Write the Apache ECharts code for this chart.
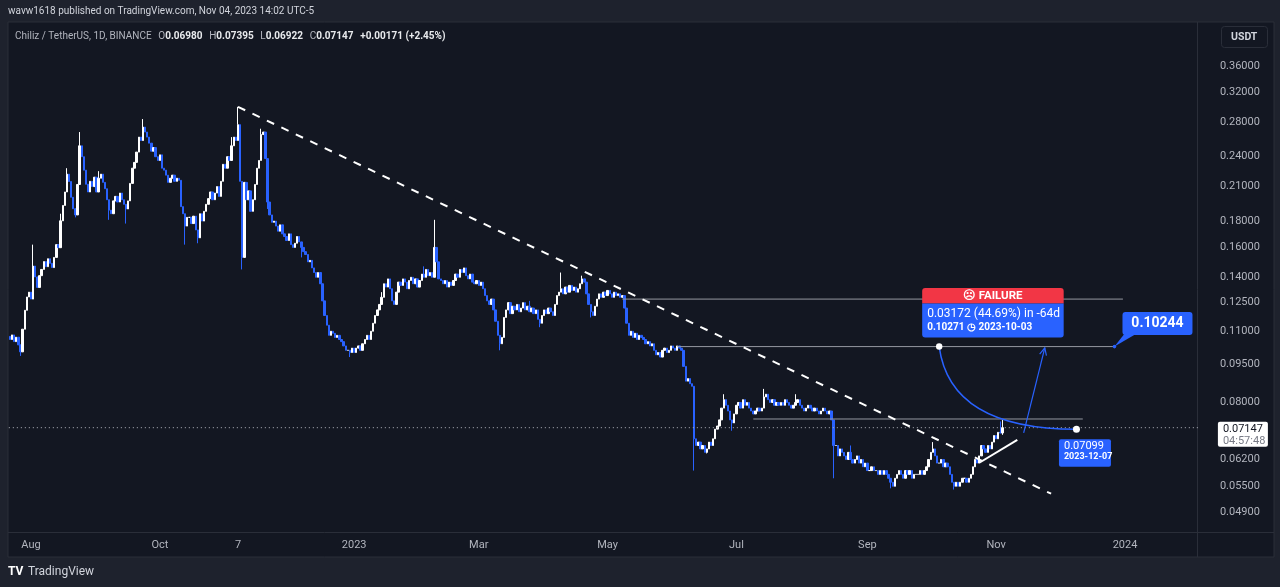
<!DOCTYPE html>
<html><head><meta charset="utf-8">
<script src="https://cdn.jsdelivr.net/npm/echarts@6.0.0/dist/echarts.min.js"></script>
<style>html,body{margin:0;padding:0;background:#1e222d;}#c{width:1280px;height:587px;}</style>
</head><body><div id="c"></div>
<script>
// ---------- DATA ----------
const startDate = [2022, 6, 22];      // first daily candle: 2022-07-22
const totalSlots = 563;               // days shown on the time axis (incl. future space)
const firstOpen = 0.1075;
const closes = [
0.1060,0.1082,0.1050,0.1071,0.1035, 0.1003,0.1110,0.1208,0.1282,0.1310,
0.1270,0.1472,0.1402,0.1338,0.1410, 0.1450,0.1502,0.1468,0.1521,0.1490,
0.1462,0.1530,0.1620,0.1598,0.1802, 0.1930,0.2050,0.2220,0.2148,0.2002,
0.1902,0.1850,0.2120,0.2520,0.2400, 0.2260,0.2122,0.2050,0.2150,0.2100,
0.2190,0.2050,0.2180,0.2220,0.2140, 0.2080,0.1980,0.1890,0.1860,0.1970,
0.2010,0.1960,0.2040,0.1980,0.1940, 0.1900,0.1970,0.2130,0.2280,0.2340,
0.2450,0.2620,0.2580,0.2740,0.2680, 0.2620,0.2550,0.2460,0.2500,0.2400,
0.2360,0.2420,0.2280,0.2260,0.2210, 0.2140,0.2180,0.2210,0.2150,0.2180,
0.2160,0.1920,0.1860,0.1760,0.1830, 0.1830,0.1780,0.1840,0.1730,0.1670,
0.1860,0.1800,0.1880,0.1940,0.1990, 0.2050,0.1980,0.2040,0.2100,0.2010,
0.2150,0.2320,0.2280,0.2400,0.2360, 0.2520,0.2620,0.2580,0.2770,0.2150,
0.1530,0.2140,0.1980,0.2060,0.1880, 0.1980,0.2120,0.2280,0.2360,0.2650,
0.2680,0.2380,0.1960,0.1850,0.1790, 0.1800,0.1760,0.1720,0.1770,0.1700,
0.1680,0.1650,0.1700,0.1620,0.1600, 0.1630,0.1680,0.1640,0.1600,0.1570,
0.1550,0.1500,0.1510,0.1460,0.1430, 0.1400,0.1430,0.1360,0.1260,0.1180,
0.1130,0.1080,0.1100,0.1090,0.1070, 0.1080,0.1060,0.1050,0.1030,0.1010,
0.1010,0.1000,0.1020,0.1000,0.1020, 0.1030,0.1010,0.1040,0.1060,0.1080,
0.1060,0.1100,0.1140,0.1180,0.1210, 0.1240,0.1280,0.1360,0.1340,0.1390,
0.1330,0.1260,0.1240,0.1310,0.1370, 0.1350,0.1390,0.1370,0.1330,0.1380,
0.1400,0.1360,0.1390,0.1340,0.1380, 0.1420,0.1400,0.1450,0.1410,0.1430,
0.1400,0.1600,0.1500,0.1390,0.1380, 0.1360,0.1380,0.1340,0.1370,0.1350,
0.1380,0.1420,0.1400,0.1450,0.1430, 0.1460,0.1410,0.1390,0.1420,0.1370,
0.1360,0.1380,0.1350,0.1370,0.1330, 0.1290,0.1260,0.1240,0.1270,0.1210,
0.1150,0.1080,0.1040,0.1070,0.1170, 0.1210,0.1250,0.1190,0.1230,0.1210,
0.1240,0.1200,0.1220,0.1250,0.1210, 0.1230,0.1200,0.1220,0.1190,0.1210,
0.1160,0.1140,0.1180,0.1210,0.1190, 0.1220,0.1200,0.1180,0.1240,0.1290,
0.1310,0.1330,0.1300,0.1340,0.1310, 0.1350,0.1320,0.1340,0.1310,0.1330,
0.1360,0.1390,0.1370,0.1300,0.1240, 0.1200,0.1180,0.1230,0.1270,0.1300,
0.1280,0.1310,0.1290,0.1320,0.1300, 0.1280,0.1310,0.1290,0.1300,0.1280,
0.1290,0.1220,0.1140,0.1080,0.1100, 0.1070,0.1090,0.1060,0.1080,0.1070,
0.1060,0.1040,0.1050,0.1030,0.1040, 0.1010,0.0990,0.1000,0.0980,0.1010,
0.1020,0.1000,0.1010,0.1030,0.1020, 0.1010,0.1030,0.1020,0.1010,0.0940,
0.0880,0.0890,0.0870,0.0860,0.0680, 0.0660,0.0670,0.0650,0.0660,0.0640,
0.0650,0.0670,0.0660,0.0680,0.0710, 0.0720,0.0740,0.0780,0.0810,0.0790,
0.0770,0.0740,0.0730,0.0760,0.0790, 0.0800,0.0780,0.0810,0.0790,0.0800,
0.0780,0.0770,0.0760,0.0770,0.0780, 0.0770,0.0780,0.0820,0.0830,0.0810,
0.0800,0.0810,0.0790,0.0800,0.0790, 0.0800,0.0790,0.0810,0.0800,0.0790,
0.0780,0.0790,0.0800,0.0810,0.0790, 0.0780,0.0770,0.0780,0.0790,0.0780,
0.0770,0.0780,0.0770,0.0760,0.0770, 0.0780,0.0770,0.0760,0.0770,0.0740,
0.0660,0.0660,0.0630,0.0650,0.0640, 0.0630,0.0620,0.0640,0.0620,0.0610,
0.0620,0.0630,0.0610,0.0620,0.0600, 0.0610,0.0590,0.0590,0.0600,0.0590,
0.0590,0.0580,0.0590,0.0580,0.0590, 0.0580,0.0570,0.0560,0.0550,0.0570,
0.0580,0.0590,0.0580,0.0570,0.0590, 0.0580,0.0590,0.0570,0.0580,0.0580,
0.0580,0.0590,0.0580,0.0590,0.0600, 0.0620,0.0640,0.0650,0.0630,0.0610,
0.0610,0.0620,0.0600,0.0610,0.0600, 0.0580,0.0560,0.0550,0.0560,0.0550,
0.0560,0.0570,0.0570,0.0560,0.0570, 0.0580,0.0600,0.0620,0.0610,0.0630,
0.0660,0.0650,0.0640,0.0660,0.0650, 0.0670,0.0690,0.0680,0.0700,0.06976,
0.07147
];
// notable wicks [candle index, price]
const highWicks = [[11,0.162],[24,0.186],[27,0.228],[33,0.268],[42,0.225],[63,0.284],[105,0.262],[108,0.300],
  [119,0.272],[176,0.131],[196,0.147],[201,0.181],[246,0.126],[261,0.143],[271,0.141],[338,0.083],[357,0.085],
  [372,0.083],[398,0.066],[437,0.067],[469,0.0735],[470,0.07395]];
const lowWicks = [[5,0.0985],[31,0.183],[47,0.181],[55,0.178],[83,0.162],[89,0.163],[110,0.145],[122,0.190],
  [138,0.153],[161,0.098],[232,0.101],[251,0.112],[275,0.117],[324,0.059],[330,0.0637],[342,0.0705],[390,0.057],
  [417,0.0545],[447,0.0542],[470,0.06922]];
const lastOpen = 0.06980;
const lastPrice = 0.07147;
const change = 0.00171, changePct = 2.45;
const priceTicks = [0.36,0.32,0.28,0.24,0.21,0.18,0.16,0.14,0.125,0.11,0.095,0.08,0.062,0.055,0.049];
const timeLabels = [['2022-08-01','Aug'],['2022-10-01','Oct'],['2022-11-07','7'],['2023-01-01','2023'],
  ['2023-03-01','Mar'],['2023-05-01','May'],['2023-07-01','Jul'],['2023-09-01','Sep'],['2023-11-01','Nov'],['2024-01-01','2024']];
// drawings (candle index, price)
const trendLine = [[108,0.300],[492.5,0.0532]];
const levelLines = [[290.3,527,0.1270],[316.3,523.2,0.1027],[351.8,508.1,0.0743]];
const supportLine = [[459.3,0.0611],[476.8,0.0677]];
const forecastFrom = [440.4,0.10271];
const forecastTo = [504.6,0.07099];
const arrowLine = [[480.2,0.0698],[490.4,0.1021]];
const targetPrice = 0.10244;
const targetAnchor = [523.2,0.1027];

// ---------- BUILD ----------
const FONT = 'Roboto, "Noto Sans", sans-serif';
const dates = [];
const d0 = Date.UTC(startDate[0], startDate[1], startDate[2]);
for (let i = 0; i < totalSlots; i++) dates.push(new Date(d0 + i * 864e5).toISOString().slice(0, 10));
const labelMap = Object.fromEntries(timeLabels);
const hiMap = Object.fromEntries(highWicks), loMap = Object.fromEntries(lowWicks);
const candles = closes.map((c, i) => {
  const o = i === closes.length - 1 ? lastOpen : (i ? closes[i - 1] : firstOpen);
  const hi = Math.max(o, c, hiMap[i] || 0);
  const lo = Math.min(o, c, loMap[i] || Infinity);
  return [o, c, lo, hi];
});

const chart = echarts.init(document.getElementById('c'), null, {width: 1280, height: 587});

function renderAnnotations(params, api) {
  const P = p => api.coord(p);
  const cs = params.coordSys;
  const kids = [];
  const line = (a, b, style) => ({type: 'line', shape: {x1: a[0], y1: a[1], x2: b[0], y2: b[1]}, style});
  const text = (t, x, y, fill, font, align) => ({type: 'text', style: {text: t, x, y, fill, font,
      align: align || 'left', textAlign: align || 'left', verticalAlign: 'middle', textVerticalAlign: 'middle'}});
  // horizontal levels
  levelLines.forEach(l => kids.push(line(P([l[0], l[2]]), P([l[1], l[2]]), {stroke: '#9598a1', lineWidth: 1})));
  // last price dotted line
  const ly = P([0, lastPrice])[1];
  kids.push(line([cs.x, ly], [cs.x + cs.width, ly], {stroke: '#b2b5be', lineWidth: 1, lineDash: [1, 3]}));
  // dashed down trend line
  kids.push(line(P(trendLine[0]), P(trendLine[1]), {stroke: '#ffffff', lineWidth: 2, lineDash: [8, 8]}));
  // short support line
  kids.push(line(P(supportLine[0]), P(supportLine[1]), {stroke: '#ffffff', lineWidth: 2}));
  // forecast curve
  const f0 = P(forecastFrom), f1 = P(forecastTo);
  kids.push({type: 'bezierCurve', shape: {x1: f0[0], y1: f0[1], x2: f1[0], y2: f1[1], cpx1: f0[0] + 11, cpy1: f1[1]},
    style: {stroke: '#2962ff', lineWidth: 1.5, fill: null}});
  // arrow
  const a0 = P(arrowLine[0]), a1 = P(arrowLine[1]);
  kids.push(line(a0, a1, {stroke: '#2962ff', lineWidth: 1.2}));
  const ang = Math.atan2(a1[1] - a0[1], a1[0] - a0[0]);
  kids.push({type: 'polyline', shape: {points: [
    [a1[0] - 8 * Math.cos(ang - 0.45), a1[1] - 8 * Math.sin(ang - 0.45)], a1,
    [a1[0] - 8 * Math.cos(ang + 0.45), a1[1] - 8 * Math.sin(ang + 0.45)]]},
    style: {stroke: '#2962ff', lineWidth: 1.2, fill: null}});
  // dots
  kids.push({type: 'circle', shape: {cx: f0[0], cy: f0[1], r: 3.2}, style: {fill: '#ffffff'}});
  kids.push({type: 'circle', shape: {cx: f1[0], cy: f1[1], r: 3.5}, style: {fill: '#ffffff'}});
  // FAILURE box
  kids.push({type: 'rect', shape: {x: f0[0] - 17, y: f0[1] - 58.5, width: 141.5, height: 15.5, r: [3, 3, 0, 0]}, style: {fill: '#f23645'}});
  kids.push({type: 'rect', shape: {x: f0[0] - 17, y: f0[1] - 43, width: 141.5, height: 34, r: [0, 0, 3, 3]}, style: {fill: '#2962ff'}});
  kids.push(text('\u2639 FAILURE', f0[0] + 53.5, f0[1] - 50.5, '#ffffff', 'bold 11.5px ' + FONT, 'center'));
  kids.push(text('0.03172 (44.69%) in -64d', f0[0] - 12, f0[1] - 32.5, '#ffffff', '12px ' + FONT));
  kids.push(text(forecastFrom[1].toFixed(5) + ' \u25F7 2023-10-03', f0[0] - 12, f0[1] - 19, '#ffffff', 'bold 10px ' + FONT));
  // end box
  kids.push({type: 'rect', shape: {x: f1[0] - 17.5, y: f1[1] + 10, width: 52, height: 27.5, r: 2}, style: {fill: '#2962ff'}});
  kids.push(text(forecastTo[1].toFixed(5), f1[0] - 12.5, f1[1] + 17, '#ffffff', '11px ' + FONT));
  kids.push(text('2023-12-07', f1[0] - 12.5, f1[1] + 28, '#ffffff', 'bold 9px ' + FONT));
  // target callout
  const T = P(targetAnchor);
  kids.push({type: 'polygon', shape: {points: [[T[0], T[1]], [T[0] + 11, T[1] - 14], [T[0] + 24, T[1] - 14]]}, style: {fill: '#2962ff'}});
  kids.push({type: 'circle', shape: {cx: T[0], cy: T[1], r: 1.8}, style: {fill: '#2962ff'}});
  kids.push({type: 'rect', shape: {x: T[0] + 8, y: T[1] - 34.5, width: 70, height: 23, r: 3}, style: {fill: '#2962ff'}});
  kids.push(text(targetPrice.toFixed(5), T[0] + 43, T[1] - 23, '#ffffff', 'bold 14px ' + FONT, 'center'));
  // last price label on the scale
  const ax = cs.x + cs.width;
  kids.push({type: 'rect', shape: {x: ax + 20, y: ly - 6, width: 50, height: 25, r: 2}, style: {fill: '#ffffff'}});
  kids.push(text(lastPrice.toFixed(5), ax + 25, ly + 2, '#131722', '11px ' + FONT));
  kids.push(text('04:57:48', ax + 25, ly + 13.5, '#787b86', '11px ' + FONT));
  return {type: 'group', children: kids};
}

const option = {
  animation: false,
  backgroundColor: '#1e222d',
  textStyle: {fontFamily: FONT},
  grid: {left: 8.84, right: 82.1, top: 22, bottom: 55},
  graphic: [
    {type: 'rect', z: -10, shape: {x: 8, y: 22, width: 1266, height: 535}, style: {fill: '#131722', stroke: '#2a2e39', lineWidth: 1}},
    {type: 'line', z: -5, shape: {x1: 1197.5, y1: 22, x2: 1197.5, y2: 557}, style: {stroke: '#2a2e39', lineWidth: 1}},
    {type: 'line', z: -5, shape: {x1: 8, y1: 532.5, x2: 1274, y2: 532.5}, style: {stroke: '#2a2e39', lineWidth: 1}},
    {type: 'text', left: 8, top: 6, style: {text: 'wavw1618 published on TradingView.com, Nov 04, 2023 14:02 UTC-5', fill: '#d1d4dc', font: '10px ' + FONT}},
    {type: 'text', left: 15, top: 30, style: {
      text: '{t|Chiliz / TetherUS, 1D, BINANCE}  {k|O}{v|' + lastOpen.toFixed(5) + '}  {k|H}{v|' + hiMap[470].toFixed(5) +
            '}  {k|L}{v|' + loMap[470].toFixed(5) + '}  {k|C}{v|' + lastPrice.toFixed(5) + '}  {v|+' + change.toFixed(5) + ' (+' + changePct.toFixed(2) + '%)}',
      rich: {
        t: {fill: '#b2b5be', fontSize: 10, fontFamily: FONT},
        k: {fill: '#b2b5be', fontSize: 10, fontFamily: FONT},
        v: {fill: '#e8eaed', fontSize: 10, fontFamily: FONT, fontWeight: 'bold'}
      }}},
    {type: 'rect', shape: {x: 1221.5, y: 26.5, width: 46, height: 21, r: 3}, style: {fill: '#131722', stroke: '#2a2e39', lineWidth: 1}},
    {type: 'text', left: 1231, top: 31.5, style: {text: 'USDT', fill: '#d1d4dc', font: 'bold 10.5px ' + FONT}},
    {type: 'text', left: 8, top: 566, style: {text: 'TV', fill: '#ffffff', font: 'bold 12px ' + FONT}},
    {type: 'text', left: 28, top: 566, style: {text: 'TradingView', fill: '#d1d4dc', font: '12px ' + FONT}}
  ],
  xAxis: {
    type: 'category', data: dates, boundaryGap: true,
    axisLine: {show: false}, axisTick: {show: false}, splitLine: {show: false},
    axisLabel: {interval: (i, v) => labelMap[v] !== undefined, formatter: v => labelMap[v] || '',
      color: '#b2b5be', fontSize: 11, margin: 8, fontFamily: FONT}
  },
  yAxis: {
    type: 'log', position: 'right', min: 0.04483, max: 0.4383,
    axisLine: {show: false}, axisTick: {show: false}, splitLine: {show: false},
    axisLabel: {customValues: priceTicks, formatter: v => Number(v).toFixed(5), color: '#b2b5be', fontSize: 11, margin: 22, fontFamily: FONT}
  },
  series: [
    {type: 'candlestick', data: candles, barWidth: '88%', z: 2,
      itemStyle: {color: '#ffffff', color0: '#2962ff', borderColor: '#ffffff', borderColor0: '#2962ff', borderWidth: 1}},
    {type: 'custom', data: [[0, 0.1]], clip: false, silent: true, z: 5, renderItem: renderAnnotations}
  ]
};
chart.setOption(option);
</script>
</body></html>
